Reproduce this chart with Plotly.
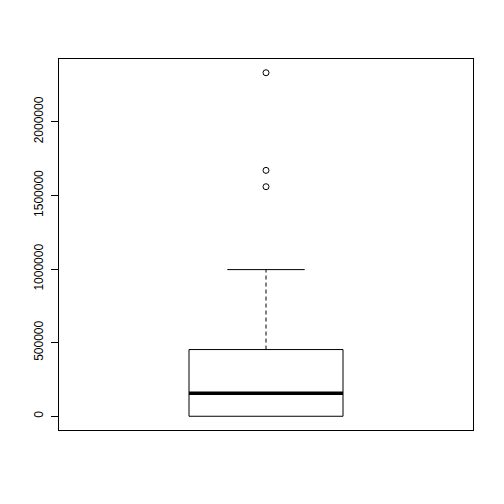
import plotly.graph_objects as go

# Box statistics (lower whisker, Q1, median, Q3, upper whisker)
stats = [0, 0, 156000, 453000, 996000]
outliers = [2333000, 1670000, 1559000]
y_ticks = [0, 500000, 1000000, 1500000, 2000000]
y_tick_labels = ["0", "500000", "1000000", "1500000", "2000000"]

pos = 1.0
half = 0.186
cap = 0.0935
lo, q1, med, q3, hi = stats

ymin_data = min(stats + outliers)
ymax_data = max(stats + outliers)
pad = 0.04 * (ymax_data - ymin_data)

fig = go.Figure()
line_black = dict(color="black", width=1)
dash_line = dict(color="black", width=1, dash="4px,3px")
# whiskers
fig.add_trace(go.Scatter(x=[pos, pos], y=[q3, hi], mode="lines",
                         line=dash_line, hoverinfo="skip"))
fig.add_trace(go.Scatter(x=[pos - cap, pos + cap], y=[hi, hi], mode="lines",
                         line=line_black, hoverinfo="skip"))
if lo < q1:
    fig.add_trace(go.Scatter(x=[pos, pos], y=[q1, lo], mode="lines",
                             line=dash_line, hoverinfo="skip"))
    fig.add_trace(go.Scatter(x=[pos - cap, pos + cap], y=[lo, lo], mode="lines",
                             line=line_black, hoverinfo="skip"))
# box
fig.add_trace(go.Scatter(x=[pos - half, pos + half, pos + half, pos - half, pos - half],
                         y=[q1, q1, q3, q3, q1], mode="lines", line=line_black,
                         hoverinfo="skip"))
# median
fig.add_trace(go.Scatter(x=[pos - half, pos + half], y=[med, med], mode="lines",
                         line=dict(color="black", width=3.5), hoverinfo="skip"))
# outliers
fig.add_trace(go.Scatter(x=[pos] * len(outliers), y=outliers, mode="markers",
                         marker=dict(symbol="circle-open", size=6, color="black",
                                     line=dict(width=1, color="black"))))

fig.update_layout(
    width=504, height=504,
    margin=dict(l=59, r=31, t=59, b=74),
    paper_bgcolor="white", plot_bgcolor="white",
    showlegend=False,
    font=dict(family="Liberation Sans, Arial, sans-serif", size=12, color="black"),
    xaxis=dict(range=[0.5, 1.5], showticklabels=False, ticks="", showgrid=False,
               zeroline=False, showline=True, mirror=True, linecolor="black", linewidth=1),
    yaxis=dict(range=[ymin_data - pad, ymax_data + pad], tickvals=y_ticks,
               ticktext=y_tick_labels, tickangle=-90, ticks="outside", ticklen=7,
               tickcolor="black", showgrid=False, zeroline=False, showline=True,
               mirror=True, linecolor="black", linewidth=1, ticklabelstandoff=3,
               tickfont=dict(size=12, color="black")),
)
fig.write_html("out.html")
